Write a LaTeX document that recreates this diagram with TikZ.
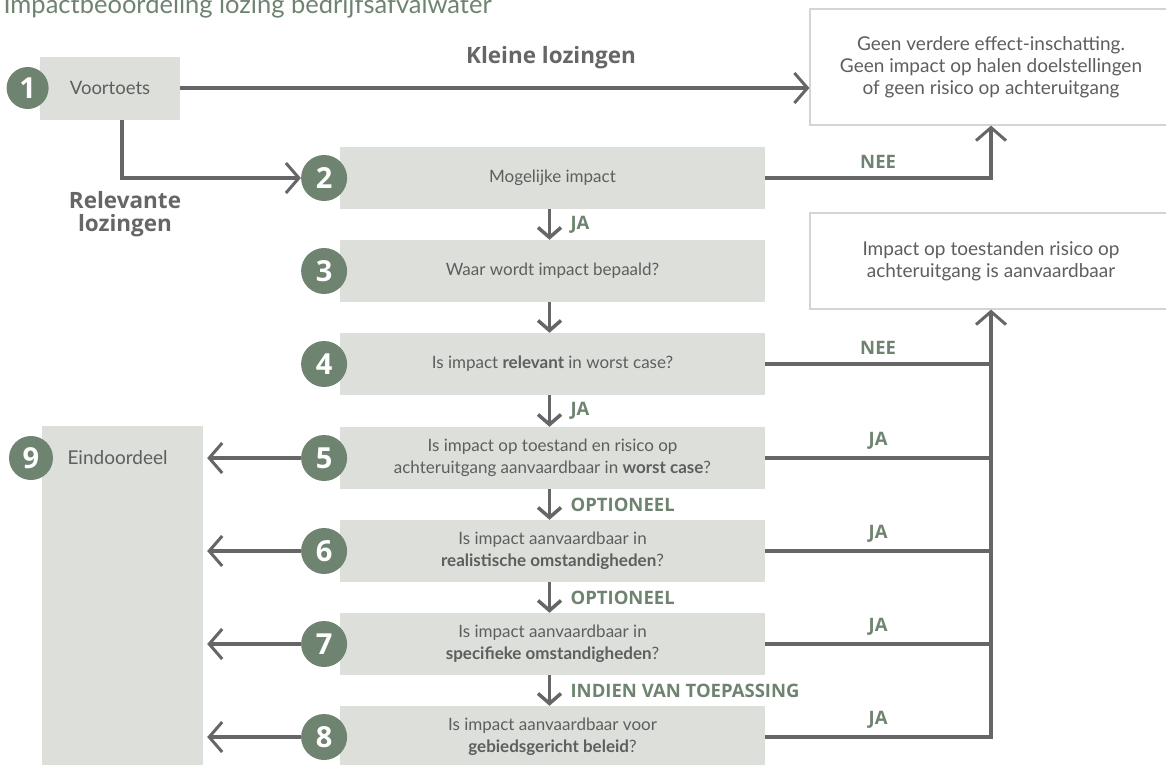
\documentclass[tikz,border=0pt]{standalone}
\usepackage{fontspec}
\setmainfont{Lato}
\newfontfamily\lblfont{Open Sans}
\usetikzlibrary{arrows.meta, positioning}
\definecolor{stepfill}{HTML}{DCDFDA}
\definecolor{numgreen}{HTML}{6E8370}
\definecolor{linegray}{HTML}{666666}
\definecolor{txtgray}{HTML}{5E5E5E}
\definecolor{endline}{HTML}{D4D4D4}

\begin{document}
\begin{tikzpicture}[
      x=1pt, y=-1pt,
      stepbox/.style={rectangle, fill=stepfill, minimum width=425pt, minimum height=62pt, inner sep=0pt, text=txtgray, align=center, font=\fontsize{17}{22}\selectfont},
      endbox/.style={rectangle, draw=endline, line width=1.2pt, fill=white, minimum width=362pt, text=txtgray, align=center, font=\fontsize{19}{22}\selectfont},
      num/.style={circle, fill=numgreen, text=white, minimum size=46pt, inner sep=0pt, font=\lblfont\fontsize{29}{29}\selectfont\bfseries},
      conn/.style={draw=linegray, line width=3.5pt},
      arrow/.style={conn, -{Straight Barb[length=13pt, width=30pt, line width=3pt]}},
      down/.style={conn, -{Straight Barb[length=10pt, width=23pt, line width=3.5pt]}},
      lbl/.style={text=numgreen, font=\lblfont\fontsize{18.5}{20}\selectfont\bfseries},
      biglbl/.style={text=linegray, align=center, font=\lblfont\fontsize{22.5}{23}\selectfont\bfseries}
    ]
    \useasboundingbox (0,0) rectangle (1166,764);

    \node[anchor=base west, text=numgreen, font=\fontsize{25.5}{26}\selectfont] (title) at (0,13) {Impactbeoordeling lozing bedrijfsafvalwater};

    % outcome boxes
    \node[endbox, minimum height=116pt] (geen) at (991,67) {Geen verdere effect-inschatting.\\Geen impact op halen doelstellingen\\of geen risico op achteruitgang};
    \node[endbox, minimum height=96pt] (ok) at (991,261) {Impact op toestanden risico op\\achteruitgang is aanvaardbaar};

    % voortoets and eindoordeel
    \node[stepbox, minimum width=140pt, minimum height=63pt, font=\fontsize{18.5}{22}\selectfont] (voor) at (110,88) {Voortoets};
    \node[num, minimum size=42pt, left=-9pt of voor] (n1) {1};
    \node[rectangle, fill=stepfill, minimum width=161pt, minimum height=350pt, inner sep=0pt] (eind) at (122.5,601) {};
    \node[num, minimum size=44pt] (n9) at (31,458) {9};
    \node[anchor=west, text=txtgray, font=\fontsize{19}{22}\selectfont] (eindtxt) at (64,458) {Eindoordeel};

    % steps
    \node[stepbox] (s2) at (552.5,178) {Mogelijke impact};
    \node[stepbox] (s3) at (552.5,271) {Waar wordt impact bepaald?};
    \node[stepbox] (s4) at (552.5,364) {Is impact \textbf{relevant} in worst case?};
    \node[stepbox] (s5) at (552.5,458) {Is impact op toestand en risico op\\achteruitgang aanvaardbaar in \textbf{worst case}?};
    \node[stepbox] (s6) at (552.5,551) {Is impact aanvaardbaar in\\\textbf{realistische omstandigheden}?};
    \node[stepbox] (s7) at (552.5,644) {Is impact aanvaardbaar in\\\textbf{specifieke omstandigheden}?};
    \node[stepbox] (s8) at (552.5,737) {Is impact aanvaardbaar voor\\\textbf{gebiedsgericht beleid}?};

    \node[num, left=-7.5pt of s2] (n2) {2};
    \node[num, left=-7.5pt of s3] (n3) {3};
    \node[num, left=-7.5pt of s4] (n4) {4};
    \node[num, left=-7.5pt of s5] (n5) {5};
    \node[num, left=-7.5pt of s6] (n6) {6};
    \node[num, left=-7.5pt of s7] (n7) {7};
    \node[num, left=-7.5pt of s8] (n8) {8};

    \node[biglbl] (kleine) at (551,58) {Kleine lozingen};
    \node[biglbl] (relevant) at (125,214) {Relevante\\lozingen};

    % connectors
    \draw[arrow] (voor.east) -- (voor.east -| geen.west);
    \draw[arrow] ([xshift=12pt]voor.south) |- (n2);
    \draw[arrow] (s2.east) -| node[lbl, pos=0.25, above=4pt] {NEE} (geen.south);

    \draw[down] ([xshift=-3pt]s2.south) -- node[lbl, right=16pt] (l23) {JA} ([xshift=-3pt]s3.north);
    \draw[down] ([xshift=-3pt]s3.south) -- ([xshift=-3pt]s4.north);
    \draw[down] ([xshift=-3pt]s4.south) -- node[lbl, right=16pt] (l45) {JA} ([xshift=-3pt]s5.north);
    \draw[down] ([xshift=-3pt]s5.south) -- node[lbl, right=16pt] (l56) {OPTIONEEL} ([xshift=-3pt]s6.north);
    \draw[down] ([xshift=-3pt]s6.south) -- node[lbl, right=16pt] (l67) {OPTIONEEL} ([xshift=-3pt]s7.north);
    \draw[down] ([xshift=-3pt]s7.south) -- node[lbl, right=16pt] (l78) {INDIEN VAN TOEPASSING} ([xshift=-3pt]s8.north);

    \draw[conn] (s4.east) -- node[lbl, above=4pt] {NEE} (s4.east -| ok.south);
    \draw[conn] (s5.east) -- node[lbl, above=4pt] {JA} (s5.east -| ok.south);
    \draw[conn] (s6.east) -- node[lbl, above=4pt] {JA} (s6.east -| ok.south);
    \draw[conn] (s7.east) -- node[lbl, above=4pt] {JA} (s7.east -| ok.south);
    \draw[arrow] (s8.east) -| node[lbl, pos=0.25, above=4pt] {JA} (ok.south);

    \draw[arrow, shorten >=4pt] (n5) -- (n5 -| eind.east);
    \draw[arrow, shorten >=4pt] (n6) -- (n6 -| eind.east);
    \draw[arrow, shorten >=4pt] (n7) -- (n7 -| eind.east);
    \draw[arrow, shorten >=4pt] (n8) -- (n8 -| eind.east);

    \end{tikzpicture}
\end{document}
